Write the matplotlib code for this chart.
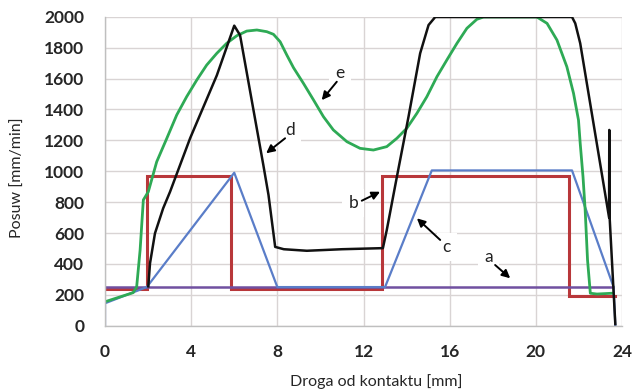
import matplotlib
matplotlib.use("Agg")
import matplotlib.pyplot as plt

# Data (x in mm, y in mm/min)
a_x = [0.0, 23.6]
a_y = [250, 250]

b_x = [0.0, 1.94, 1.94, 5.83, 5.83, 12.87, 12.87, 21.52, 21.52, 23.69]
b_y = [240, 240, 972, 972, 240, 240, 972, 972, 190, 190]

c_x = [0.0, 0.0, 1.94, 6.0, 8.0, 13.0, 15.17, 21.68, 23.61, 23.69]
c_y = [0, 145, 250, 990, 250, 250, 1005, 1005, 250, 0]

d_x = [2.01, 2.09, 2.32, 2.70, 3.02, 3.95, 5.19, 6.0, 6.27, 7.35, 7.59, 7.90,
       8.3, 9.37, 11.0, 12.9, 13.08, 13.55, 14.09, 14.63, 15.02, 15.33, 21.68,
       21.83, 22.06, 23.40, 23.41, 23.43, 23.69]
d_y = [255, 404, 598, 760, 867, 1213, 1620, 1942, 1880, 1040, 846, 510,
       495, 485, 495, 502, 619, 964, 1353, 1763, 1946, 1998, 1998,
       1957, 1828, 700, 1267, 690, 10]

e_x = [0.0, 1.31, 1.47, 1.63, 1.78, 2.01, 2.40, 2.87, 3.33, 3.79, 4.26, 4.72,
       5.19, 5.65, 6.12, 6.58, 7.05, 7.51, 7.82, 8.13, 8.44, 8.75, 9.21, 9.68,
       10.14, 10.6, 11.23, 11.84, 12.46, 13.08, 13.55, 14.01, 14.48, 14.94,
       15.41, 15.87, 16.34, 16.8, 17.26, 17.57, 20.05, 20.52, 20.98, 21.44,
       21.75, 21.98, 22.06, 22.19, 22.29, 22.4, 22.53, 22.84, 23.53]
e_y = [155, 214, 252, 490, 814, 867, 1061, 1213, 1364, 1482, 1590, 1687,
       1763, 1828, 1877, 1907, 1914, 1903, 1886, 1838, 1752, 1670, 1569, 1461,
       1353, 1267, 1191, 1148, 1137, 1159, 1213, 1278, 1375, 1482,
       1612, 1720, 1828, 1925, 1983, 1998, 1998, 1957, 1849, 1676,
       1504, 1331, 1180, 964, 749, 425, 210, 205, 210]

labels = ["a", "b", "c", "d", "e"]
label_pos = [(17.8, 447), (11.53, 792), (15.87, 511), (8.59, 1267), (10.9, 1634)]
arrow_tail = [(18.11, 393), (11.92, 809), (15.56, 555), (8.36, 1213), (10.76, 1579)]
arrow_head = [(18.81, 307), (12.77, 867), (14.48, 695), (7.48, 1116), (10.06, 1460)]

x_ticks = [0, 4, 8, 12, 16, 20, 24]
y_ticks = list(range(0, 2001, 200))

fig = plt.figure(figsize=(6.33, 3.89), dpi=100)
ax = fig.add_axes([105/633, 1-325.7/389, (622-105)/633, (325.7-16.7)/389])

ax.grid(True, color="#d9d4d4", linewidth=1.0)
ax.set_axisbelow(True)

lw = 1.8
ax.plot(b_x, b_y, color="#b8373a", lw=lw + 0.4, solid_joinstyle="miter")
ax.plot(a_x, a_y, color="#7050a0", lw=lw)
ax.plot(c_x, c_y, color="#5a7dc8", lw=lw - 0.2)
ax.plot(e_x, e_y, color="#2eaa55", lw=lw + 0.2)
ax.plot(d_x, d_y, color="#111111", lw=lw)

for lab, p, t, h in zip(labels, label_pos, arrow_tail, arrow_head):
    ax.text(p[0], p[1], lab, fontsize=12.5, family="Lato", ha="center", va="center",
            color="#222222",
            bbox=dict(boxstyle="square,pad=0.35", fc="white", ec="none"), zorder=6)
    ax.annotate("", xy=h, xytext=t,
                arrowprops=dict(arrowstyle="-|>", color="black", lw=1.4,
                                mutation_scale=12, shrinkA=0, shrinkB=0),
                zorder=7)

ax.set_xlim(0, 24)
ax.set_ylim(0, 2000)
ax.set_xticks(x_ticks)
ax.set_yticks(y_ticks)
ax.tick_params(axis="x", length=0, pad=13)
ax.tick_params(axis="y", length=0, pad=15)
for lbl in ax.get_xticklabels() + ax.get_yticklabels():
    lbl.set_fontfamily("Lato")
    lbl.set_fontsize(12.5)
    lbl.set_fontweight("bold")
    lbl.set_color("#262626")

for s in ["top", "right"]:
    ax.spines[s].set_visible(False)
for s in ["left", "bottom"]:
    ax.spines[s].set_color("#bfbfbf")
    ax.spines[s].set_linewidth(1.0)

ax.set_xlabel("Droga od kontaktu [mm]", fontsize=11.5, family="Lato", color="#262626")
ax.set_ylabel("Posuw [mm/min]", fontsize=11.5, family="Lato", color="#262626")
ax.xaxis.set_label_coords(0.524, -0.155)
ax.yaxis.set_label_coords(-0.155, 0.478)

fig.savefig("out.png", dpi=100)
